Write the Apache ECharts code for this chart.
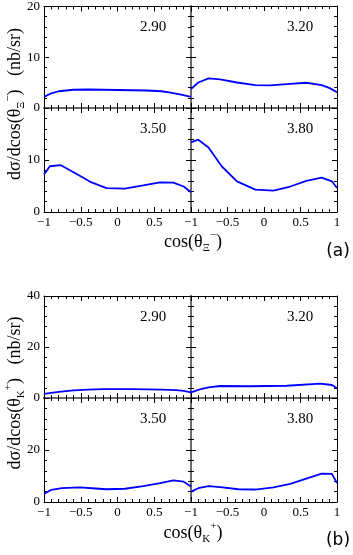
<!DOCTYPE html>
<html>
<head>
<meta charset="utf-8">
<script src="https://cdn.jsdelivr.net/npm/echarts@6/dist/echarts.min.js"></script>
<style>
html, body { margin: 0; padding: 0; background: #fff; }
#chart { width: 353px; height: 555px; }
</style>
</head>
<body>
<div id="chart"></div>
<script>
// (a) Xi- angular distributions
const cosA290 = [-1, -0.9, -0.8, -0.6, -0.4, -0.2, 0, 0.2, 0.4, 0.6, 0.72, 0.85, 1];
const dsA290 = [2.2, 2.9, 3.3, 3.6, 3.65, 3.6, 3.55, 3.5, 3.45, 3.3, 3.05, 2.7, 2.2];
const cosA320 = [-1, -0.9, -0.76, -0.6, -0.37, -0.12, 0.08, 0.31, 0.58, 0.79, 0.9, 1];
const dsA320 = [3.7, 5.0, 5.8, 5.6, 5.0, 4.5, 4.45, 4.7, 4.95, 4.5, 3.9, 3.1];
const cosA350 = [-1, -0.92, -0.77, -0.58, -0.37, -0.15, 0.1, 0.35, 0.58, 0.76, 0.9, 1];
const dsA350 = [7.2, 8.8, 9.0, 7.5, 5.8, 4.6, 4.5, 5.1, 5.7, 5.65, 4.9, 3.8];
const cosA380 = [-1, -0.9, -0.76, -0.58, -0.37, -0.12, 0.13, 0.36, 0.58, 0.79, 0.93, 1];
const dsA380 = [13.4, 13.9, 12.4, 8.8, 5.9, 4.3, 4.1, 4.9, 6.0, 6.6, 5.9, 4.6];

// (b) K+ angular distributions
const cosB290 = [-1, -0.8, -0.6, -0.4, -0.2, 0, 0.2, 0.4, 0.6, 0.8, 0.9, 1];
const dsB290 = [1.6, 2.4, 3.0, 3.3, 3.45, 3.5, 3.45, 3.4, 3.3, 3.1, 2.8, 2.2];
const cosB320 = [-1, -0.88, -0.76, -0.6, -0.2, 0.31, 0.77, 0.93, 1];
const dsB320 = [2.2, 3.4, 4.2, 4.7, 4.6, 4.8, 5.6, 5.1, 3.8];
const cosB350 = [-1, -0.9, -0.76, -0.51, -0.3, -0.15, 0.1, 0.35, 0.58, 0.76, 0.9, 1];
const dsB350 = [3.1, 4.7, 5.3, 5.6, 5.2, 4.9, 5.1, 6.1, 7.3, 8.3, 7.8, 6.0];
const cosB380 = [-1, -0.9, -0.76, -0.6, -0.35, -0.12, 0.13, 0.36, 0.58, 0.79, 0.93, 1];
const dsB380 = [4.0, 5.3, 6.1, 5.7, 4.9, 4.8, 5.6, 7.0, 9.0, 10.9, 10.8, 7.3];

const energies = ["2.90", "3.20", "3.50", "3.80"];
const yMaxA = 20, yStepA = 10;
const yMaxB = 40, yStepB = 20;

const serif = "Liberation Serif";
const cols = [{ left: 44, width: 147 }, { left: 191, width: 146 }];
const groups = [
    {
        rows: [{ top: 6, height: 102 }, { top: 108, height: 104 }],
        yMax: yMaxA, yStep: yStepA,
        curves: [[cosA290, dsA290], [cosA320, dsA320], [cosA350, dsA350], [cosA380, dsA380]]
    },
    {
        rows: [{ top: 296, height: 102 }, { top: 398, height: 104 }],
        yMax: yMaxB, yStep: yStepB,
        curves: [[cosB290, dsB290], [cosB320, dsB320], [cosB350, dsB350], [cosB380, dsB380]]
    }
];

let grid = [], xAxis = [], yAxis = [], series = [], graphic = [];

// inner = shared edge between two panels: drawn grey and a bit thicker
function axisCommon(inner) {
    return {
        axisLine: {
            onZero: false,
            lineStyle: { color: inner ? "#6a6a6a" : "#000", width: inner ? 2 : 1 }
        },
        axisTick: { inside: true, length: 5, lineStyle: { color: "#000" } },
        minorTick: { show: true, splitNumber: 5, length: 3, lineStyle: { color: "#000" } },
        splitLine: { show: false }
    };
}

groups.forEach(g => {
    g.rows.forEach((row, r) => {
        cols.forEach((col, c) => {
            let gi = grid.length;
            grid.push({ left: col.left, top: row.top, width: col.width, height: row.height });

            let labelFont = { fontFamily: serif, fontSize: 13, color: "#000" };
            let xb = xAxis.length;
            xAxis.push(Object.assign(axisCommon(r === 0), {
                type: "value", gridIndex: gi, position: "bottom", min: -1, max: 1, interval: 0.5,
                axisLabel: Object.assign({
                    show: r === 1, margin: 4, showMaxLabel: c === 1,
                    formatter: v => String(v).replace("-", "\u2212")
                }, labelFont)
            }));
            xAxis.push(Object.assign(axisCommon(r === 1), {
                type: "value", gridIndex: gi, position: "top", min: -1, max: 1, interval: 0.5,
                axisLabel: { show: false }
            }));
            let yl = yAxis.length;
            yAxis.push(Object.assign(axisCommon(c === 1), {
                type: "value", gridIndex: gi, position: "left", min: 0, max: g.yMax, interval: g.yStep,
                axisLabel: Object.assign({ show: c === 0, margin: 4, showMaxLabel: r === 0 }, labelFont)
            }));
            yAxis.push(Object.assign(axisCommon(c === 0), {
                type: "value", gridIndex: gi, position: "right", min: 0, max: g.yMax, interval: g.yStep,
                axisLabel: { show: false }
            }));

            let k = r * 2 + c;
            let [xs, ys] = g.curves[k];
            series.push({
                type: "line",
                xAxisIndex: xb,
                yAxisIndex: yl,
                showSymbol: false,
                z: 5,
                lineStyle: { color: "#0000ff", width: 1.8 },
                data: xs.map((x, i) => [x, ys[i]])
            });

            graphic.push({
                type: "text",
                x: col.left + 109, y: row.top + 21,
                style: {
                    text: energies[k], fontFamily: serif, fontSize: 15, fill: "#000",
                    align: "center", verticalAlign: "middle"
                }
            });
        });
    });
});

const subRich = {
    sub: { fontFamily: serif, fontSize: 11, lineHeight: 11, verticalAlign: "bottom", fill: "#000" },
    sup: { fontFamily: serif, fontSize: 11, lineHeight: 18, verticalAlign: "top", fill: "#000" }
};

function titleText(x, y, text, rot) {
    return {
        type: "text", x: x, y: y, rotation: rot || 0,
        style: {
            text: text, fontFamily: serif, fontSize: 18, lineHeight: 24, fill: "#000",
            align: "center", verticalAlign: "middle", rich: subRich
        }
    };
}

graphic.push(titleText(193, 242, "cos(θ{sub|Ξ}{sup|\u2212})"));
graphic.push(titleText(193, 533, "cos(θ{sub|K}{sup|+})"));
graphic.push(titleText(15, 104, "dσ/dcos(θ{sub|Ξ}{sup|\u2212})   (nb/sr)", Math.PI / 2));
graphic.push(titleText(15, 393, "dσ/dcos(θ{sub|K}{sup|+})   (nb/sr)", Math.PI / 2));

["(a)", "(b)"].forEach((t, i) => {
    graphic.push({
        type: "text", x: 338, y: i === 0 ? 252 : 541,
        style: {
            text: t, fontFamily: "DejaVu Sans", fontSize: 17, fill: "#000",
            align: "center", verticalAlign: "middle"
        }
    });
});

let myChart = echarts.init(document.getElementById("chart"));
myChart.setOption({
    animation: false,
    grid: grid,
    xAxis: xAxis,
    yAxis: yAxis,
    series: series,
    graphic: graphic
});
</script>
</body>
</html>
